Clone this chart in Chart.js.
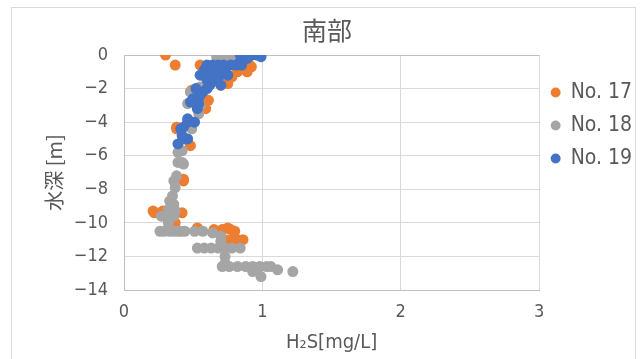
<!DOCTYPE html>
<html>
<head>
<meta charset="utf-8">
<script src="https://cdn.jsdelivr.net/npm/chart.js@4.4.0/dist/chart.umd.min.js"></script>
<style>
  body { margin: 0; background: #fff; }
  #wrap { position: relative; width: 643px; height: 359px; }
  #frame { position: absolute; left: 11px; top: 7px; width: 625px; height: 370px; border: 1px solid #d9d9d9; box-sizing: border-box; }
</style>
</head>
<body>
<div id="wrap">
  <div id="frame"></div>
  <canvas id="elementScatter"></canvas>
</div>
<script>
// H2S (mg/L) vs depth (m)
var no17X = [0.30, 0.37, 0.55, 0.84, 0.80, 0.88, 0.90, 0.92, 0.89, 0.82, 0.78, 0.75, 0.70, 0.49, 0.48, 0.61, 0.59, 0.38, 0.38, 0.48,
             0.43, 0.43, 0.22, 0.21, 0.28, 0.42, 0.37, 0.53, 0.65, 0.71, 0.77, 0.80, 0.75, 0.73, 0.78, 0.82, 0.86];
var no17Y = [0.0, -0.6, -0.6, 0.0, -0.1, -0.2, -0.5, -0.7, -1.0, -1.0, -1.3, -1.7, -1.8, -2.1, -2.2, -2.7, -3.2, -4.3, -4.4, -5.4,
             -7.4, -7.5, -9.4, -9.3, -9.3, -9.4, -10.0, -10.3, -10.4, -10.4, -10.4, -10.5, -10.3, -11.0, -11.0, -11.0, -11.0];

var no18X = [0.67, 0.72, 0.77, 0.82, 0.80, 0.85, 0.70, 0.75, 0.61, 0.62, 0.55, 0.48, 0.46, 0.55, 0.54, 0.49, 0.42, 0.39, 0.39, 0.43,
             0.42, 0.38, 0.36, 0.37, 0.35, 0.33, 0.36, 0.32, 0.30, 0.36, 0.27, 0.32, 0.37, 0.32, 0.26, 0.29, 0.33, 0.36, 0.39, 0.41,
             0.44, 0.51, 0.57, 0.64, 0.70, 0.70, 0.53, 0.58, 0.63, 0.68, 0.73, 0.78, 0.84, 0.73, 0.73, 0.71, 0.76, 0.82, 0.88, 0.93,
             0.98, 1.03, 1.06, 1.11, 1.22, 0.99, 0.93];
var no18Y = [-0.1, -0.1, -0.1, -0.1, -0.3, -0.4, -0.3, -0.2, -0.9, -0.9, -1.9, -2.2, -2.9, -3.0, -3.5, -4.4, -5.7, -5.8, -6.4, -6.5,
             -6.4, -7.2, -7.5, -7.9, -8.4, -8.7, -8.9, -9.2, -9.6, -9.6, -9.6, -9.7, -9.3, -10.0, -10.5, -10.5, -10.5, -10.5, -10.5, -10.5,
             -10.5, -10.5, -10.5, -10.6, -10.8, -11.1, -11.5, -11.5, -11.5, -11.5, -11.5, -11.5, -11.5, -12.0, -12.4, -12.6, -12.6, -12.6, -12.6, -12.6,
             -12.6, -12.6, -12.6, -12.8, -12.9, -13.2, -12.9];

var no19X = [0.84, 0.88, 0.92, 0.96, 0.99, 0.84, 0.89, 0.60, 0.64, 0.68, 0.72, 0.77, 0.81, 0.85, 0.58, 0.65, 0.73, 0.55, 0.62, 0.70,
             0.75, 0.67, 0.62, 0.70, 0.60, 0.52, 0.60, 0.57, 0.55, 0.50, 0.48, 0.50, 0.54, 0.53, 0.46, 0.51, 0.46, 0.43, 0.41, 0.42,
             0.46, 0.44, 0.39];
var no19Y = [0.0, 0.0, 0.0, 0.0, -0.1, -0.4, -0.2, -0.6, -0.6, -0.6, -0.6, -0.6, -0.6, -0.6, -0.9, -0.9, -0.9, -1.2, -1.2, -1.2,
             -1.2, -1.5, -1.8, -1.8, -1.5, -2.0, -2.0, -2.2, -2.4, -2.6, -2.8, -2.7, -2.9, -3.2, -3.8, -4.0, -4.0, -4.3, -4.4, -4.8,
             -5.0, -5.0, -5.3];

var xTicks = [0, 1, 2, 3];
var yTicks = [0, -2, -4, -6, -8, -10, -12, -14];

function toPoints(xs, ys) {
    return xs.map(function (x, i) { return { x: x, y: ys[i] }; });
}

var latinFont = "'DejaVu Sans Condensed', 'Noto Sans CJK JP', sans-serif";
var cjkFont = "'Noto Sans CJK JP', sans-serif";

var scatterChart = new Chart(document.getElementById('elementScatter'), {
    type: 'scatter',
    data: {
        datasets: [
            { label: 'No. 17', data: toPoints(no17X, no17Y), backgroundColor: '#ED7D31', order: 3 },
            { label: 'No. 18', data: toPoints(no18X, no18Y), backgroundColor: '#A5A5A5', order: 2 },
            { label: 'No. 19', data: toPoints(no19X, no19Y), backgroundColor: '#4472C4', order: 1 }
        ]
    },
    options: {
        responsive: true,
        maintainAspectRatio: false,
        animation: false,
        layout: { padding: { left: 12, right: 1, top: 8, bottom: 0 } },
        elements: { point: { radius: 5.5, borderWidth: 0, hoverRadius: 5.5 } },
        plugins: {
            tooltip: { enabled: false },
            title: {
                display: true,
                text: '南部',
                color: '#595959',
                font: { family: cjkFont, size: 25, weight: 'normal' },
                padding: { top: 7, bottom: 10 }
            },
            legend: {
                position: 'right',
                align: 'start',
                title: { display: true, text: ' ', font: { size: 10 }, padding: { top: 0, bottom: 50 } },
                labels: {
                    sort: function (a, b) { return a.datasetIndex - b.datasetIndex; },
                    usePointStyle: true,
                    pointStyle: 'circle',
                    boxWidth: 9,
                    boxHeight: 7,
                    padding: 12,
                    color: '#595959',
                    font: { family: latinFont, size: 21 }
                }
            }
        },
        scales: {
            x: {
                type: 'linear',
                min: 0, max: 3,
                afterFit: function (s) { s.height = 69; },
                afterBuildTicks: function (s) { s.ticks = xTicks.map(function (v) { return { value: v }; }); },
                grid: { color: '#d9d9d9', drawTicks: false },
                border: { color: '#bfbfbf' },
                ticks: { padding: 12, color: '#595959', font: { family: latinFont, size: 18 } },
                title: { display: true, text: 'H₂S[mg/L]', color: '#595959', padding: { top: 0, bottom: 4 },
                         font: { family: latinFont, size: 20 } }
            },
            y: {
                type: 'linear',
                min: -14, max: 0,
                afterFit: function (s) { s.width = 112; },
                afterBuildTicks: function (s) { s.ticks = yTicks.map(function (v) { return { value: v }; }); },
                grid: { color: function (c) { return c.tick && c.tick.value === 0 ? '#bfbfbf' : '#d9d9d9'; }, drawTicks: false },
                border: { color: '#bfbfbf' },
                ticks: {
                    padding: 16, color: '#595959', font: { family: latinFont, size: 18 },
                    callback: function (v) { return v < 0 ? '\u2212' + Math.abs(v) : String(v); }
                },
                title: { display: true, text: '水深 [m]', color: '#595959', padding: { top: 30, bottom: 0 },
                         font: { family: cjkFont, size: 20 } }
            }
        }
    }
});
</script>
</body>
</html>
